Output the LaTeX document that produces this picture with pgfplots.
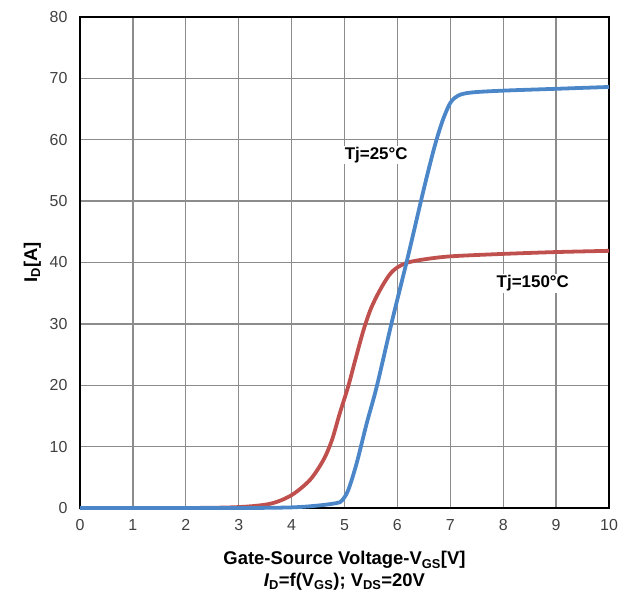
\documentclass[border=0pt]{standalone}
\usepackage{fontspec}
\setmainfont{Liberation Sans}
\usepackage{pgfplots}
\pgfplotsset{compat=1.18}
\definecolor{blueline}{HTML}{4A86C8}
\definecolor{redline}{HTML}{C0504D}
\definecolor{tickgray}{HTML}{404040}
\definecolor{gridgray}{HTML}{8C8C8C}
\begin{document}
\begin{tikzpicture}[x=1bp,y=1bp]
\begin{axis}[
    scale only axis,
    width=529bp,
    height=491bp,
    xmin=0, xmax=10,
    ymin=0, ymax=80,
    xtick={0,1,...,10},
    ytick={0,10,...,80},
    xmajorgrids, ymajorgrids,
    major grid style={gridgray, line width=1.3pt},
    axis line style={black, line width=1.6pt},
    major tick length=0pt,
    /pgf/number format/assume math mode=true,
    tick label style={font=\fontsize{16}{18}\selectfont, text=tickgray},
    xticklabel style={yshift=-8bp},
    yticklabel style={xshift=-9bp},
    xlabel={\bfseries Gate-Source Voltage-V\textsubscript{GS}[V]\\\bfseries\itshape I\textsubscript{\upshape D}\upshape=f(V\textsubscript{GS}); V\textsubscript{DS}=20V},
    xlabel style={font=\fontsize{18.5}{22}\selectfont, align=center, yshift=-14bp},
    ylabel={\bfseries I\textsubscript{D}[A]},
    ylabel style={font=\fontsize{18.5}{22}\selectfont, yshift=2bp},
    clip=false,
]
\addplot[redline, line width=3.8pt, smooth, line join=round] coordinates {
(0,0) (2,0) (3,0.15) (3.6,0.7) (4.0,2.1) (4.35,4.6) (4.6,7.8) (4.76,11)
(4.91,15.4) (5.07,19.8) (5.2,24) (5.36,29) (5.5,32.5) (5.67,35.5)
(5.85,38) (6.0,39.2) (6.2,40) (6.5,40.5) (7,41) (8,41.4) (9,41.7) (10,41.9)
};
\addplot[blueline, line width=3.8pt, smooth, line join=round] coordinates {
(0,0) (3,0) (4,0.1) (4.5,0.4) (4.85,0.8) (4.95,1.2) (5.07,2.9) (5.23,7.3)
(5.42,13.8) (5.61,19.8) (5.9,30.5) (6.2,41) (6.5,52) (6.7,58.8) (6.85,63)
(7.0,66) (7.15,67.2) (7.4,67.7) (8,68) (9,68.3) (10,68.6)
};
\node[fill=white, inner sep=1.5pt, font=\fontsize{17}{19}\selectfont\bfseries] at (axis cs:5.6,57.5) {Tj=25°C};
\node[fill=white, inner sep=1.5pt, font=\fontsize{17}{19}\selectfont\bfseries] at (axis cs:8.56,36.6) {Tj=150°C};
\end{axis}
\pgfresetboundingbox
\path (current axis.south west) ++(-80bp,-99bp) coordinate (bbA);
\path (current axis.north east) ++(20bp,17bp) coordinate (bbB);
\path[use as bounding box] (bbA) rectangle (bbB);
\end{tikzpicture}
\end{document}
